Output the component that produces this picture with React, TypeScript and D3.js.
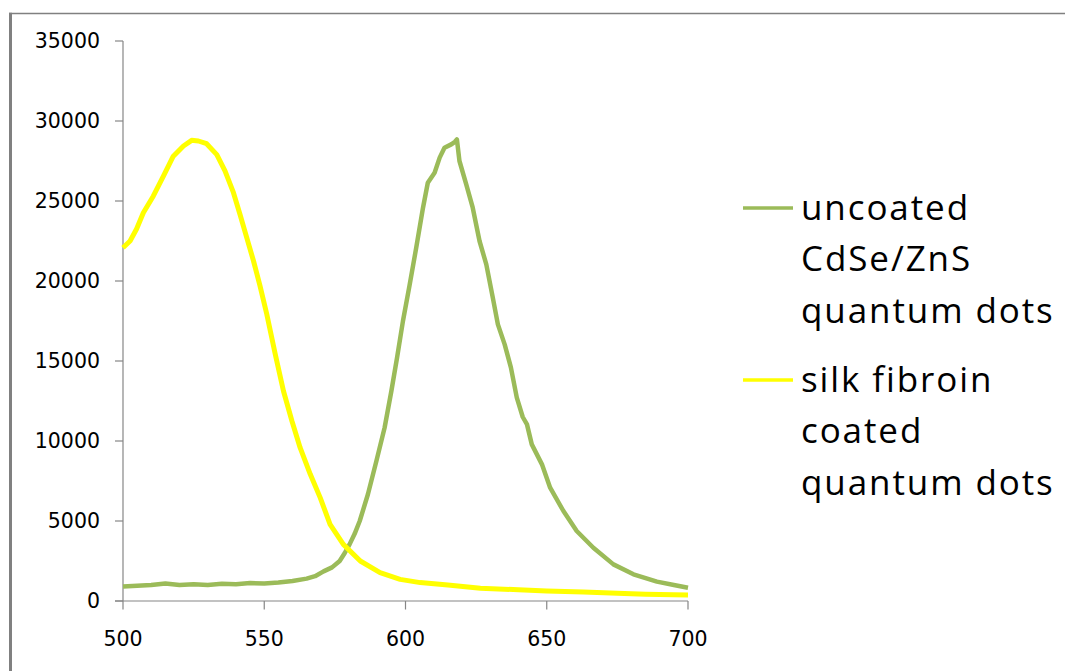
import React from "react";
import * as d3 from "d3";

const xTicks = [500, 550, 600, 650, 700];
const yTicks = [0, 5000, 10000, 15000, 20000, 25000, 30000, 35000];

const uncoatedWl = [500, 505, 510, 515, 520, 525, 530, 535, 540, 545, 550, 555, 560, 565, 568, 571, 574, 576.7, 578.5, 580.2, 582, 583.8, 586.7, 589.7, 592.6, 595, 597, 599.1, 601.4, 603.8, 606.2, 607.9, 610.3, 612.1, 613.8, 616.2, 617.5, 618.2, 619.1, 621.5, 623.8, 626.2, 628.6, 630.9, 632.7, 635.1, 637.3, 639.4, 641.5, 643, 644.7, 648.3, 651.2, 655.9, 660.6, 666.5, 673.6, 680.7, 689, 695, 700];
const uncoatedVal = [900, 950, 1000, 1100, 1000, 1050, 1000, 1080, 1050, 1120, 1100, 1150, 1250, 1400, 1550, 1850, 2100, 2500, 3000, 3540, 4200, 5000, 6670, 8750, 10830, 13125, 15200, 17500, 19700, 22080, 24580, 26140, 26770, 27710, 28330, 28540, 28700, 28850, 27500, 26040, 24580, 22500, 21040, 18960, 17290, 16040, 14600, 12710, 11500, 11040, 9790, 8540, 7080, 5625, 4375, 3330, 2290, 1670, 1210, 1000, 830];

const coatedWl = [500, 502.5, 504.8, 507.2, 510.7, 514.3, 517.8, 521.4, 524.3, 526.7, 529.6, 533.2, 536.1, 539.1, 541.4, 543.8, 546.2, 548.5, 550.9, 553.9, 556.8, 559.8, 562.7, 566.3, 569.8, 573.3, 578, 584, 591, 598.1, 605.2, 615, 626.5, 640, 650, 663, 675, 685, 700];
const coatedVal = [22080, 22500, 23250, 24270, 25300, 26560, 27800, 28440, 28790, 28750, 28580, 27900, 26880, 25520, 24170, 22710, 21250, 19700, 17920, 15420, 13125, 11250, 9580, 7920, 6460, 4790, 3540, 2500, 1770, 1350, 1150, 1000, 800, 700, 630, 560, 480, 420, 380];

const seriesNames = [
  ["uncoated", "CdSe/ZnS", "quantum dots"],
  ["silk fibroin", "coated", "quantum dots"],
];
const seriesColors = ["#9BBB59", "#FFFF00"];

export default function App() {
  const W = 1065;
  const H = 671;
  const x = d3.scaleLinear().domain([500, 700]).range([123, 688]);
  const y = d3.scaleLinear().domain([0, 35000]).range([601, 41]);
  const line = d3
    .line<[number, number]>()
    .x((d) => x(d[0]))
    .y((d) => y(d[1]))
    .curve(d3.curveLinear);
  const green = uncoatedWl.map((w, i) => [w, uncoatedVal[i]] as [number, number]);
  const yellow = coatedWl.map((w, i) => [w, coatedVal[i]] as [number, number]);
  const axisColor = "#868686";
  const tickFont = "'DejaVu Sans', Verdana, sans-serif";
  const legFont = "'Open Sans', sans-serif";
  const legendTops = [208, 380];
  return (
    <svg
      width={W}
      height={H}
      style={{ position: "absolute", left: 0, top: 0, background: "#fff" }}
    >
      <rect x={0} y={0} width={W} height={H} fill="#fff" />
      {/* frame */}
      <line x1={9} y1={13.5} x2={W} y2={13.5} stroke="#808080" strokeWidth={1.6} />
      <line x1={10.5} y1={12.7} x2={10.5} y2={H} stroke="#808080" strokeWidth={3} />
      {/* y axis */}
      <line x1={x(500)} y1={y(35000)} x2={x(500)} y2={y(0)} stroke={axisColor} strokeWidth={1.2} />
      {yTicks.map((t) => (
        <g key={"y" + t}>
          <line x1={115} x2={x(500)} y1={y(t)} y2={y(t)} stroke={axisColor} strokeWidth={1.2} />
          <text
            x={100}
            y={y(t) + 7.3}
            textAnchor="end"
            fontFamily={tickFont}
            fontSize={20.5}
            fill="#000"
          >
            {t}
          </text>
        </g>
      ))}
      {/* x axis */}
      <line x1={115} y1={y(0)} x2={x(700)} y2={y(0)} stroke={axisColor} strokeWidth={1.2} />
      {xTicks.map((t) => (
        <g key={"x" + t}>
          <line x1={x(t)} x2={x(t)} y1={y(0)} y2={y(0) + 8.5} stroke={axisColor} strokeWidth={1.2} />
          <text
            x={x(t)}
            y={646}
            textAnchor="middle"
            fontFamily={tickFont}
            fontSize={20.5}
            fill="#000"
          >
            {t}
          </text>
        </g>
      ))}
      {/* series */}
      <path d={line(green) || ""} fill="none" stroke={seriesColors[0]} strokeWidth={4.5} strokeLinejoin="round" />
      <path d={line(yellow) || ""} fill="none" stroke={seriesColors[1]} strokeWidth={5} strokeLinejoin="round" />
      {/* legend */}
      {seriesNames.map((lines, i) => (
        <g key={"leg" + i}>
          <line
            x1={743}
            x2={793}
            y1={legendTops[i]}
            y2={legendTops[i]}
            stroke={seriesColors[i]}
            strokeWidth={3.5}
          />
          {lines.map((s, j) => (
            <text
              key={j}
              x={801}
              y={legendTops[i] + 11.5 + j * 51.5}
              fontFamily={legFont}
              fontSize={35}
              letterSpacing={1.9}
              fill="#000"
            >
              {s}
            </text>
          ))}
        </g>
      ))}
    </svg>
  );
}
